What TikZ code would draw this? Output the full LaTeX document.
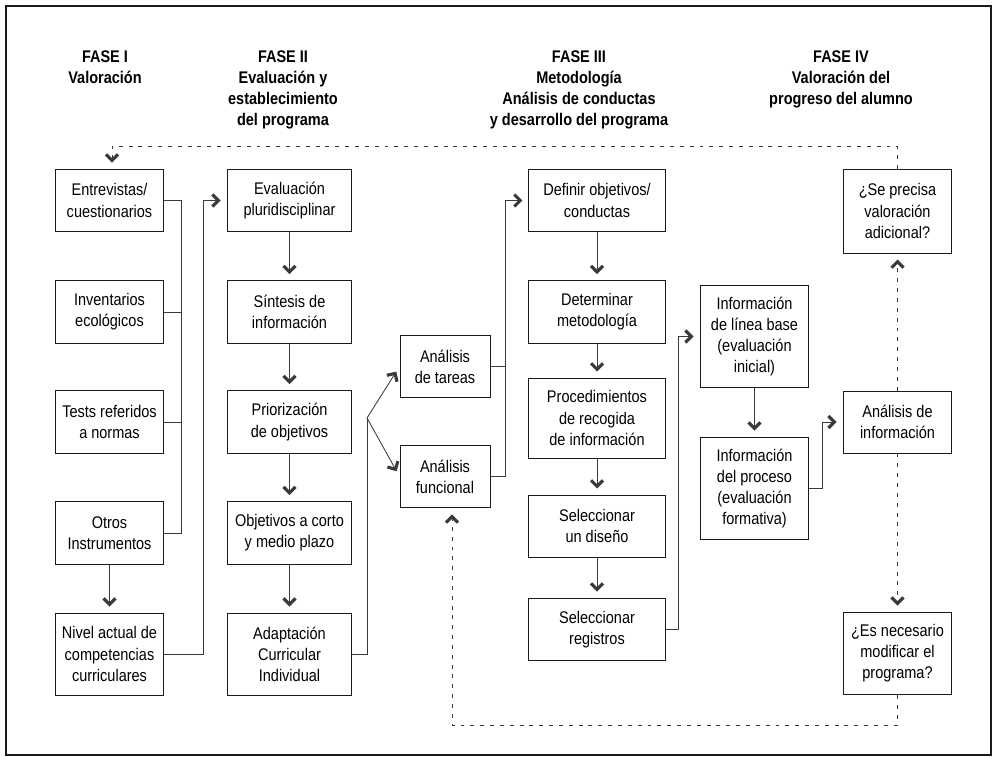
\documentclass[tikz,border=0pt]{standalone}
\usepackage{fontspec}
\usepackage{tikz}
\usetikzlibrary{arrows.meta,positioning,calc}
\newfontfamily\cond{Liberation Sans}[FakeStretch=0.86]
\definecolor{ink}{HTML}{1A1A1A}
\definecolor{wire}{HTML}{3A3A3A}

\begin{document}
\begin{tikzpicture}[
  x=0.025cm,y=-0.025cm,
  box/.style={draw=ink,line width=0.7pt,align=center,inner sep=2pt,font=\cond\fontsize{12}{15}\selectfont},
  hdr/.style={align=center,inner sep=0pt,anchor=north,font=\cond\bfseries\fontsize{12}{15}\selectfont},
  wa/.style={box,minimum width=2.72cm,minimum height=1.57cm},
  wb/.style={box,minimum width=3.12cm,minimum height=1.57cm},
  wc/.style={box,minimum width=2.25cm,minimum height=1.55cm},
  wd/.style={box,minimum width=3.4cm,minimum height=1.57cm},
  fl/.style={-{Straight Barb[length=1.5mm,width=3mm,line width=2.2pt]},draw=wire,line width=0.6pt,shorten >=1.5mm},
  ln/.style={draw=wire,line width=0.6pt},
  dl/.style={-{Straight Barb[length=1.5mm,width=3mm,line width=2.2pt]},draw=wire,line width=0.6pt,dash pattern=on 2.8pt off 4.2pt,shorten >=1.5mm}
]
\useasboundingbox (0,0) rectangle (994,757);
\draw[ink,line width=0.8pt] (6,6) rectangle (991,755);

\node[hdr] (h1) at (105,50) {FASE I\\Valoración};
\node[hdr] (h2) at (283,50) {FASE II\\Evaluación y\\establecimiento\\del programa};
\node[hdr] (h3) at (579,50) {FASE III\\Metodología\\Análisis de conductas\\y desarrollo del programa};
\node[hdr] (h4) at (841,50) {FASE IV\\Valoración del\\progreso del alumno};

\node[wa] (e1) at (109.5,200.5) {Entrevistas/\\cuestionarios};
\node[wa] (e2) at (109.5,312) {Inventarios\\ecológicos};
\node[wa] (e3) at (109.5,422) {Tests referidos\\a normas};
\node[wa] (e4) at (109.5,533) {Otros\\Instrumentos};
\node[wa,minimum height=2.05cm] (e5) at (109.5,654) {Nivel actual de\\competencias\\curriculares};

\node[wb] (c1) at (289.5,200.5) {Evaluación\\pluridisciplinar};
\node[wb] (c2) at (289.5,312) {Síntesis de\\información};
\node[wb] (c3) at (289.5,422) {Priorización\\de objetivos};
\node[wb] (c4) at (289.5,533) {Objetivos a corto\\y medio plazo};
\node[wb,minimum height=2.05cm] (c5) at (289.5,654) {Adaptación\\Curricular\\Individual};

\node[wc] (t) at (445,366.5) {Análisis\\de tareas};
\node[wc,minimum height=1.57cm] (f) at (445,476.5) {Análisis\\funcional};

\node[wd] (d1) at (597,200.5) {Definir objetivos/\\conductas};
\node[wd] (d2) at (597,312) {Determinar\\metodología};
\node[wd,minimum height=2cm] (d3) at (597,418) {Procedimientos\\de recogida\\de información};
\node[wd,minimum height=1.55cm] (d4) at (597,526) {Seleccionar\\un diseño};
\node[wd] (d5) at (597,629.5) {Seleccionar\\registros};

\node[wa,minimum height=2.57cm] (b1) at (754.5,336.5) {Información\\de línea base\\(evaluación\\inicial)};
\node[wa,minimum height=2.57cm] (b2) at (754.5,488.5) {Información\\del proceso\\(evaluación\\formativa)};

\node[wa,minimum height=2.1cm] (r1) at (897.5,211) {¿Se precisa\\valoración\\adicional?};
\node[wa,minimum height=1.55cm] (r2) at (897.5,422) {Análisis de\\información};
\node[wa,minimum height=2.07cm] (r3) at (897.5,653.5) {¿Es necesario\\modificar el\\programa?};

\coordinate (bus) at (181,200.5);
\coordinate (j1) at (203,654);
\coordinate (j2) at (367,654);
\coordinate (br) at (367,418);
\coordinate (j3) at (505,366.5);
\coordinate (j4) at (678,629.5);
\coordinate (j5) at (822,488.5);
\coordinate (lt) at (112,146);
\coordinate (lb) at (452,725);

\draw[ln] (e1) -- (bus) |- (e4);
\draw[ln] (e2) -- (e2 -| bus);
\draw[ln] (e3) -- (e3 -| bus);
\draw[fl] (e4) -- (e5);
\draw[fl] (e5) -- (j1) |- (c1);

\draw[fl] (c1) -- (c2);
\draw[fl] (c2) -- (c3);
\draw[fl] (c3) -- (c4);
\draw[fl] (c4) -- (c5);
\draw[ln] (c5) -- (j2) -- (br);
\draw[fl] (br) -- (t.west);
\draw[fl] (br) -- (f.west);

\draw[fl] (t) -- (j3) |- (d1);
\draw[ln] (f) -| (j3);
\draw[fl] (d1) -- (d2);
\draw[fl] (d2) -- (d3);
\draw[fl] (d3) -- (d4);
\draw[fl] (d4) -- (d5);
\draw[fl] (d5) -- (j4) |- (b1);

\draw[fl] (b1) -- (b2);
\draw[fl] (b2) -- (j5) |- (r2);
\draw[dl] (r2) -- (r1);
\draw[dl] (r2) -- (r3);
\draw[dl] (r3.south) |- (lb) -- (lb |- f.south);
\draw[dl] (r1.north) |- (lt) -- (lt |- e1.north);
\end{tikzpicture}
\end{document}
